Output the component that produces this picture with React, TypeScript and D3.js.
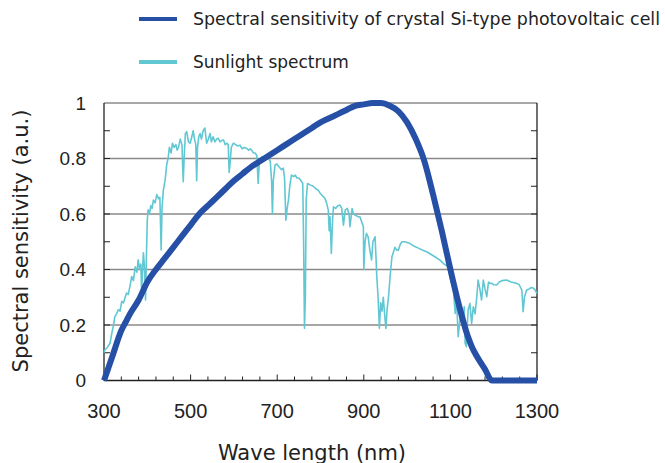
import React from "react";
import * as d3 from "d3";

const xTickLabels = [300, 500, 700, 900, 1100, 1300];
const yTickLabels = [0, 0.2, 0.4, 0.6, 0.8, 1];
const legendLabels = ["Spectral sensitivity of crystal Si-type photovoltaic cell", "Sunlight spectrum"];

const siWavelength = [300, 320, 340, 350, 360, 380, 400, 420, 440, 460, 480, 500, 520, 540, 560, 580, 600, 620, 640, 660, 680, 700, 720, 740, 760, 780, 800, 820, 840, 860, 880, 900, 920, 940, 960, 980, 1000, 1020, 1040, 1060, 1080, 1100, 1120, 1140, 1150, 1160, 1180, 1196, 1300];
const siValue = [0, 0.09, 0.18, 0.21, 0.24, 0.29, 0.355, 0.40, 0.44, 0.48, 0.52, 0.56, 0.60, 0.63, 0.66, 0.69, 0.72, 0.745, 0.77, 0.79, 0.81, 0.83, 0.85, 0.87, 0.89, 0.91, 0.93, 0.945, 0.96, 0.975, 0.99, 0.995, 1.0, 1.0, 0.99, 0.97, 0.93, 0.87, 0.79, 0.67, 0.54, 0.40, 0.27, 0.16, 0.12, 0.09, 0.04, 0, 0];

const sunWavelength = [300, 302, 308, 314, 318, 322, 325, 329, 333, 337, 341, 345, 349, 352, 356, 360, 364, 368, 372, 376, 379, 382, 385, 387, 389, 391, 393, 396, 398, 400, 402, 405, 408, 411, 414, 418, 422, 426, 429, 432, 434, 437, 441, 445, 448, 451, 455, 458, 462, 466, 469, 472, 476, 480, 483, 485, 488, 491, 495, 499, 503, 506, 509, 512, 514, 516, 519, 522, 525, 529, 533, 537, 541, 545, 548, 552, 556, 560, 564, 568, 572, 576, 580, 584, 587, 589, 591, 594, 599, 604, 609, 614, 619, 624, 629, 634, 638, 641, 645, 649, 653, 656, 659, 664, 670, 676, 680, 684, 687, 689, 691, 695, 699, 704, 710, 714, 717, 720, 723, 726, 729, 733, 738, 742, 745, 750, 755, 759, 761, 763, 765, 767, 770, 776, 783, 790, 795, 799, 805, 810, 814, 818, 820, 822, 825, 828, 830, 835, 840, 845, 849, 853, 857, 862, 866, 868, 870, 873, 876, 881, 887, 891, 895, 899, 900, 903, 906, 910, 914, 918, 921, 926, 928, 930, 933, 936, 939, 942, 945, 948, 951, 954, 957, 961, 965, 968, 972, 976, 980, 984, 988, 995, 1005, 1015, 1025, 1035, 1045, 1055, 1065, 1076, 1085, 1095, 1099, 1103, 1107, 1111, 1114, 1118, 1122, 1126, 1129, 1132, 1134, 1137, 1139, 1141, 1145, 1149, 1153, 1157, 1161, 1164, 1168, 1172, 1176, 1180, 1184, 1188, 1191, 1196, 1200, 1207, 1213, 1220, 1230, 1240, 1248, 1253, 1259, 1265, 1268, 1271, 1276, 1282, 1287, 1292, 1296, 1300];
const sunValue = [0.10, 0.11, 0.12, 0.135, 0.17, 0.20, 0.23, 0.24, 0.255, 0.25, 0.285, 0.28, 0.30, 0.315, 0.31, 0.34, 0.375, 0.36, 0.41, 0.39, 0.435, 0.40, 0.42, 0.315, 0.40, 0.46, 0.42, 0.29, 0.45, 0.58, 0.615, 0.60, 0.63, 0.62, 0.65, 0.64, 0.67, 0.655, 0.66, 0.47, 0.62, 0.685, 0.72, 0.78, 0.80, 0.84, 0.82, 0.855, 0.84, 0.85, 0.83, 0.84, 0.87, 0.85, 0.716, 0.80, 0.89, 0.897, 0.86, 0.855, 0.88, 0.90, 0.87, 0.85, 0.72, 0.84, 0.88, 0.89, 0.87, 0.90, 0.91, 0.855, 0.87, 0.89, 0.86, 0.878, 0.86, 0.87, 0.873, 0.86, 0.865, 0.867, 0.85, 0.855, 0.85, 0.75, 0.78, 0.84, 0.855, 0.85, 0.845, 0.848, 0.835, 0.84, 0.837, 0.83, 0.835, 0.83, 0.82, 0.82, 0.81, 0.71, 0.79, 0.806, 0.80, 0.806, 0.80, 0.79, 0.72, 0.60, 0.72, 0.777, 0.78, 0.77, 0.76, 0.765, 0.73, 0.578, 0.62, 0.65, 0.70, 0.74, 0.735, 0.74, 0.73, 0.73, 0.72, 0.71, 0.50, 0.188, 0.30, 0.65, 0.71, 0.705, 0.70, 0.69, 0.685, 0.675, 0.665, 0.657, 0.64, 0.614, 0.54, 0.59, 0.458, 0.58, 0.626, 0.62, 0.63, 0.632, 0.62, 0.56, 0.614, 0.62, 0.60, 0.554, 0.58, 0.62, 0.60, 0.595, 0.59, 0.59, 0.572, 0.554, 0.40, 0.50, 0.53, 0.518, 0.47, 0.434, 0.50, 0.518, 0.45, 0.374, 0.30, 0.188, 0.28, 0.25, 0.30, 0.24, 0.188, 0.26, 0.30, 0.38, 0.446, 0.46, 0.48, 0.47, 0.47, 0.49, 0.50, 0.50, 0.495, 0.485, 0.478, 0.47, 0.464, 0.455, 0.445, 0.434, 0.42, 0.41, 0.374, 0.35, 0.326, 0.242, 0.30, 0.158, 0.22, 0.254, 0.20, 0.266, 0.134, 0.122, 0.20, 0.254, 0.278, 0.206, 0.266, 0.24, 0.302, 0.362, 0.33, 0.29, 0.362, 0.33, 0.302, 0.355, 0.35, 0.35, 0.345, 0.344, 0.355, 0.36, 0.362, 0.355, 0.352, 0.35, 0.345, 0.326, 0.248, 0.30, 0.326, 0.33, 0.335, 0.332, 0.325, 0.314];

const W = 665;
const H = 463;
const BLUE = "#2550a6";
const CYAN = "#60c7d3";
const GRID = "#8c8888";
const TITLE_FONT = "'DejaVu Sans', Verdana, sans-serif";
const TICK_FONT = "'Liberation Sans', Arial, sans-serif";

export default function App() {
  const x = d3.scaleLinear().domain([300, 1300]).range([104, 537]);
  const y = d3.scaleLinear().domain([0, 1]).range([380.5, 103]);

  const siData = siWavelength.map((w, i) => [w, siValue[i]] as [number, number]);
  const sunData = sunWavelength.map((w, i) => [w, sunValue[i]] as [number, number]);

  const siLine = d3
    .line<[number, number]>()
    .x((d) => x(d[0]))
    .y((d) => y(d[1]))
    .curve(d3.curveMonotoneX);
  const sunLine = d3
    .line<[number, number]>()
    .x((d) => x(d[0]))
    .y((d) => y(d[1]));

  const gridVals = [0.2, 0.4, 0.6, 0.8, 1.0];
  const yMinor = d3.range(1, 10).map((i) => i / 10);
  const xTicks = d3.range(300, 1301, 40);

  const [x0, x1] = x.range();
  const y0 = y(0);
  const y1 = y(1);

  return (
    <svg width={W} height={H} style={{ position: "absolute", left: 0, top: 0, background: "#fff" }}>
      {/* legend */}
      <g>
        <line x1={139} x2={177} y1={19} y2={19} stroke={BLUE} strokeWidth={4} />
        <text x={193} y={25} fontFamily={TITLE_FONT} fontSize={17} fill="#222" textLength={467} lengthAdjust="spacingAndGlyphs">
          {legendLabels[0]}
        </text>
        <line x1={139} x2={177} y1={62} y2={62} stroke={CYAN} strokeWidth={4} />
        <text x={193} y={68} fontFamily={TITLE_FONT} fontSize={17} fill="#222">
          {legendLabels[1]}
        </text>
      </g>

      {/* grid */}
      {gridVals.map((v) => (
        <line key={"g" + v} x1={x0} x2={x1} y1={y(v)} y2={y(v)} stroke={GRID} strokeWidth={1.5} />
      ))}

      {/* axes frame */}
      <line x1={x0} x2={x0} y1={y1} y2={y0} stroke="#222" strokeWidth={1.3} />
      <line x1={x1} x2={x1} y1={y1} y2={y0} stroke="#222" strokeWidth={1.3} />
      <line x1={x0} x2={x1} y1={y0} y2={y0} stroke="#222" strokeWidth={1.3} />

      {/* y ticks inward both sides */}
      {yMinor.map((v) => (
        <g key={"yt" + v}>
          <line x1={x0} x2={x0 + 6} y1={y(v)} y2={y(v)} stroke="#222" strokeWidth={1} />
          <line x1={x1 - 6} x2={x1} y1={y(v)} y2={y(v)} stroke="#222" strokeWidth={1} />
        </g>
      ))}
      {/* x ticks */}
      {xTicks.map((v) => {
        const major = (v - 300) % 200 === 0;
        return (
          <line key={"xt" + v} x1={x(v)} x2={x(v)} y1={y0} y2={y0 - (major ? 6 : 4)} stroke="#222" strokeWidth={1} />
        );
      })}

      {/* tick labels */}
      {yTickLabels.map((v) => (
        <text
          key={"yl" + v}
          x={86}
          y={y(v)}
          dy="0.36em"
          textAnchor="end"
          fontFamily={TICK_FONT}
          fontSize={19}
          fill="#222"
        >
          {String(v)}
        </text>
      ))}
      {xTickLabels.map((v) => (
        <text key={"xl" + v} x={x(v)} y={418} textAnchor="middle" fontFamily={TICK_FONT} fontSize={20} fill="#222">
          {String(v)}
        </text>
      ))}

      {/* data */}
      <path d={sunLine(sunData) || ""} fill="none" stroke={CYAN} strokeWidth={1.6} strokeLinejoin="round" />
      <path d={siLine(siData) || ""} fill="none" stroke={BLUE} strokeWidth={6} strokeLinejoin="round" />

      {/* axis titles */}
      <text
        transform={`translate(28,241) rotate(-90)`}
        textAnchor="middle"
        fontFamily={TITLE_FONT}
        fontSize={21}
        fill="#222"
      >
        Spectral sensitivity (a.u.)
      </text>
      <text x={312} y={460} textAnchor="middle" fontFamily={TITLE_FONT} fontSize={21} fill="#222">
        Wave length (nm)
      </text>
    </svg>
  );
}
